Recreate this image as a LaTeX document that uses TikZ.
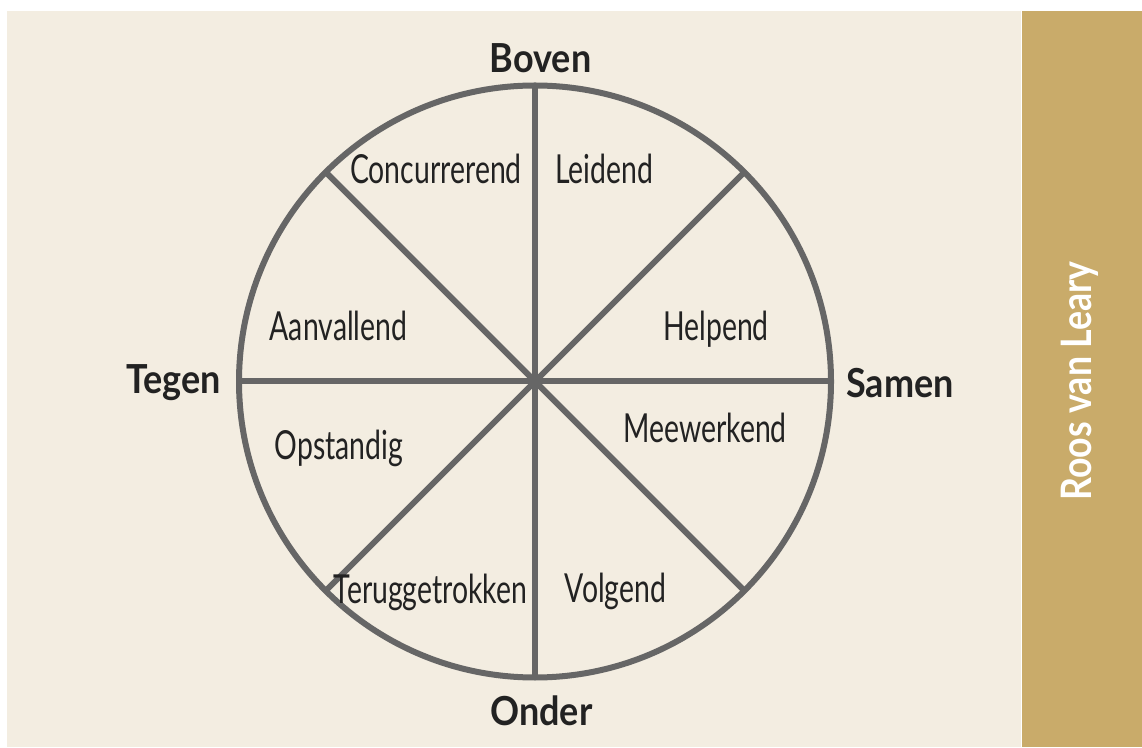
\documentclass[tikz,border=0pt]{standalone}
\usepackage{fontspec}
\setmainfont{Lato}
\newfontfamily\lblfont[FakeStretch=0.71]{Lato}
\newfontfamily\hdfont[FakeStretch=0.9]{Lato}
\newfontfamily\sidefont[FakeStretch=0.85]{Lato}
\definecolor{cream}{RGB}{243,237,225}
\definecolor{gold}{RGB}{201,171,106}
\definecolor{ink}{RGB}{34,34,34}
\definecolor{spokegray}{RGB}{102,102,102}
\begin{document}
\begin{tikzpicture}[x=1pt,y=1pt,
  sector/.style={font=\lblfont\fontsize{40}{40}\selectfont, text=ink, inner sep=0pt, anchor=base},
  pole/.style={font=\hdfont\bfseries\fontsize{40}{40}\selectfont, text=ink, inner sep=0pt, anchor=base},
  spoke/.style={draw=spokegray, line width=6pt}]
\useasboundingbox (0,0) rectangle (1142,747);
\fill[white] (0,0) rectangle (1142,747);
\fill[cream] (7,0) rectangle (1021,736);
\fill[gold] (1022,0) rectangle (1142,736);
% wheel
\node[circle, draw=spokegray, line width=6pt, minimum size=592pt, inner sep=0pt, outer sep=0pt] (rose) at (535,365.5) {};
\draw[spoke] (rose.north) -- (rose.south);
\draw[spoke] (rose.west) -- (rose.east);
\draw[spoke] (rose.45) -- (rose.225);
\draw[spoke] (rose.135) -- (rose.315);
% sector labels
\node[sector] (conc) at (436,563) {Concurrerend};
\node[sector] (leid) at (604,563) {Leidend};
\node[sector] (help) at (716,406) {Helpend};
\node[sector] (aanv) at (338.5,406) {Aanvallend};
\node[sector] (opst) at (339,287) {Opstandig};
\node[sector] (meew) at (705,304) {Meewerkend};
\node[sector] (teru) at (430.5,144) {Teruggetrokken};
\node[sector] (volg) at (615.5,145) {Volgend};
% poles
\node[pole] (boven) at (540.5,674) {Boven};
\node[pole] (onder) at (541.5,22) {Onder};
\node[pole] (tegen) at (173.5,353) {Tegen};
\node[pole] (samen) at (900,349) {Samen};
% side title
\node[font=\sidefont\bfseries\fontsize{42}{42}\selectfont, text=white, inner sep=0pt, anchor=base, rotate=90] (title) at (1091,366) {Roos van Leary};
\end{tikzpicture}
\end{document}
